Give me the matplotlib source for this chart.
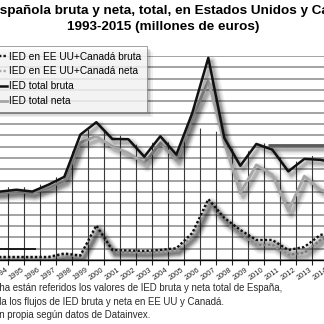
import matplotlib
matplotlib.use("Agg")
import matplotlib.pyplot as plt
import matplotlib.patheffects as pe
from matplotlib.lines import Line2D
from matplotlib.patches import Polygon
import numpy as np

plt.rcParams["font.family"] = ["Liberation Sans", "DejaVu Sans"]

# millones de euros
years = list(range(1993, 2016))
total_bruta = [30100, 30200, 31000, 30200, 33200, 36700, 55300, 60800, 53400, 53300, 45600, 54600,
               46500, 64900, 89200, 53800, 41600, 51200, 48700, 39100, 44600, 44200, 42900]
total_neta = [29200, 29600, 30100, 29600, 31900, 35000, 51800, 54600, 50100, 47200, 42800, 51600,
              44200, 62800, 78900, 51800, 29500, 42000, 37600, 21700, 37000, 31000, 28800]
usa_can_bruta = [1330, 1330, 1330, 1330, 1330, 2880, 1990, 15270, 4420, 4200, 3980, 4420,
                 5180, 11950, 26860, 18580, 13270, 8850, 8850, 4420, 5750, 11060, 12400]
usa_can_neta = [880, 880, 1100, 880, 880, 2210, 1550, 14160, 3760, 3540, 3320, 3760,
                4420, 10620, 25220, 17260, 11500, 6640, 6640, 2210, 3100, 8850, 10180]

# tramos horizontales sueltos: (valor, desde, hasta)
ref_left = (4700, 1992.5, 1996.2)
ref_right = (50750, 2010.7, 2015.5)

labels = ["IED en EE UU+Canadá bruta", "IED en EE UU+Canadá neta",
          "IED total bruta", "IED total neta"]
title = ("IED española bruta y neta, total, en Estados Unidos y Canadá\n"
         "1993-2015 (millones de euros)")
notes = ["Nota: En el eje de la derecha están referidos los valores de IED bruta y neta total de España,",
         "en el de la izquierda los flujos de IED bruta y neta en EE UU y Canadá.",
         "Fuente: Elaboración propia según datos de Datainvex."]


def soft_shadow(lw, solid=False):
    fx = []
    for extra, alpha in ((6, 0.05), (4, 0.07), (2, 0.09), (0.5, 0.12)):
        kw = {"linewidth": lw + extra}
        if solid:
            kw["dashes"] = {"dash_offset": 0, "dash_list": None}
        fx.append(pe.SimpleLineShadow(offset=(2.2, -2.6), shadow_color="black",
                                      alpha=alpha, **kw))
    fx.append(pe.Normal())
    return fx


fig = plt.figure(figsize=(3.24, 3.24), dpi=100)
ax = fig.add_axes([-0.0731, 0.1975, 1.1358, 0.6296])
ax.set_xlim(1992.5, 2015.5)
ax.set_ylim(0, 90000)

# rejilla horizontal
ax.set_yticks(np.arange(0, 90001, 5000))
ax.yaxis.grid(True, color="#8a8a8a", linewidth=1.1)
ax.tick_params(axis="y", length=0, labelleft=False)
ax.set_axisbelow(True)
for s in ["left", "right", "top"]:
    ax.spines[s].set_visible(False)
ax.spines["bottom"].set_linewidth(1.0)

# rejilla vertical, solo bajo la curva de IED total bruta
bounds = np.arange(1993.5, 2015.5, 1)
vl = ax.vlines(bounds, 0, 90000, colors="#3a3a3a", linewidth=0.8, zorder=1)
top = np.minimum(np.array(total_bruta) + 1500, 58000)
verts = [(1992.5, 0)] + list(zip(years, top)) + [(2015.5, 0)]
clip = Polygon(verts, closed=True, transform=ax.transData, facecolor="none", edgecolor="none")
ax.add_patch(clip)
vl.set_clip_path(clip)

ax.set_xticks(np.arange(1993.5, 2015.5, 1))
ax.set_xticklabels([])
ax.tick_params(axis="x", which="major", length=3.8, width=0.8, direction="out", color="#222")
ax.set_xticks(years, minor=True)
ax.set_xticklabels([str(y) for y in years], minor=True, rotation=35, fontsize=5.4, color="#222")
ax.tick_params(axis="x", which="minor", length=0, pad=4.5)

ax.hlines(ref_left[0], ref_left[1], ref_left[2], colors="#111", linewidth=1.3, zorder=3)
ax.hlines(ref_right[0], ref_right[1], ref_right[2], colors="#5a5a5a", linewidth=2.0, zorder=3,
          path_effects=soft_shadow(2.0, solid=True))

dots = (0, (1, 0.9))
ax.plot(years, usa_can_neta, color="#a8a8a8", linewidth=1.7, linestyle=dots,
        dash_capstyle="butt", zorder=4, path_effects=soft_shadow(1.7, solid=True))
ax.plot(years, usa_can_bruta, color="#111111", linewidth=1.7, linestyle=dots,
        dash_capstyle="butt", zorder=5, path_effects=soft_shadow(1.7, solid=True))
ax.plot(years, total_neta, color="#a6a6a6", linewidth=2.0, zorder=6,
        path_effects=soft_shadow(2.0))
ax.plot(years, total_bruta, color="#111111", linewidth=1.8, zorder=7,
        path_effects=soft_shadow(1.8))

handles = [Line2D([], [], color="#111111", lw=1.7, ls=dots),
           Line2D([], [], color="#a8a8a8", lw=1.7, ls=dots),
           Line2D([], [], color="#111111", lw=1.8),
           Line2D([], [], color="#a6a6a6", lw=2.0)]
leg = ax.legend(handles, labels, loc="upper right", bbox_to_anchor=(147 / 324, 1 - 46 / 324),
                bbox_transform=fig.transFigure, fontsize=7.25, frameon=True, fancybox=False,
                borderaxespad=0, borderpad=0.55, handlelength=2.6, handletextpad=0.25,
                labelspacing=0.48)
frame = leg.get_frame()
frame.set_edgecolor("#777777")
frame.set_linewidth(0.6)
frame.set_path_effects([pe.SimplePatchShadow(offset=(o, -o), shadow_rgbFace="black", alpha=a)
                        for o, a in ((4, 0.06), (3, 0.08), (2, 0.1))] + [pe.Normal()])
leg.set_zorder(10)

fig.text(163 / 324, 1 - 19 / 324, title, ha="center", va="center", fontsize=9.7,
         fontweight="bold", linespacing=1.4)

for note, xr, yc in zip(notes, [282, 224, 150], [288, 302, 315]):
    fig.text(xr / 324, 1 - yc / 324, note, ha="right", va="center", fontsize=6.9, color="#2a2a2a")

fig.savefig("out.png", dpi=100, facecolor="white")
